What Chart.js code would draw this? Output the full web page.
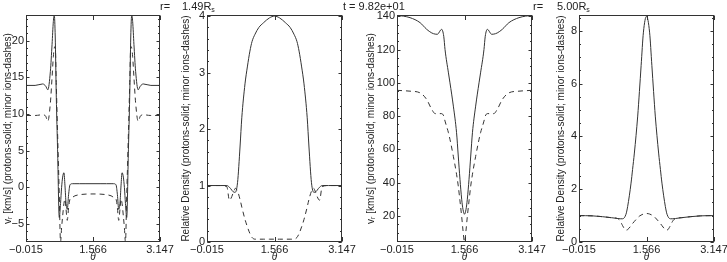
<!DOCTYPE html>
<html>
<head>
<meta charset="utf-8">
<script src="https://cdn.jsdelivr.net/npm/chart.js@4.4.1/dist/chart.umd.min.js"></script>
<style>
  body { margin: 0; background: #fff; }
  #wrap { position: relative; width: 727px; height: 262px; overflow: hidden; }
  #wrap canvas { position: absolute; left: 0; top: 0; }
  .lbl { position: absolute; top: 0; font: 11px "Liberation Sans", Arial, sans-serif; line-height: 12px; color: #222; white-space: pre; }
  .lbl sub { font-size: 7px; vertical-align: -2px; }
</style>
</head>
<body>
<div id="wrap">
  <canvas id="c1" width="727" height="262"></canvas>
  <canvas id="c2" width="727" height="262"></canvas>
  <canvas id="c3" width="727" height="262"></canvas>
  <canvas id="c4" width="727" height="262"></canvas>
  <div class="lbl" style="left:160px">r=</div>
  <div class="lbl" style="left:182px">1.49R<sub>s</sub></div>
  <div class="lbl" style="left:343px">t = 9.82e+01</div>
  <div class="lbl" style="left:533px">r=</div>
  <div class="lbl" style="left:557px">5.00R<sub>s</sub></div>
</div>
<script>
// theta ticks shared by all panels
const thetaTicks = [-0.015, 1.566, 3.147];

// panel 1: radial velocity at r=1.49 Rs
const theta1 = [-0.015, 0.20, 0.38, 0.45, 0.50, 0.56, 0.60, 0.63, 0.652, 0.675, 0.70, 0.73, 0.77, 0.80, 0.825, 0.85, 0.88, 0.905, 0.93, 0.959, 0.99, 1.023, 1.08, 1.14, 1.25, 1.40, 1.566,
  1.732, 1.882, 1.992, 2.052, 2.109, 2.142, 2.173, 2.202, 2.227, 2.252, 2.282, 2.307, 2.332, 2.362, 2.402, 2.432, 2.457, 2.48, 2.502, 2.532, 2.572, 2.632, 2.682, 2.752, 2.932, 3.147];
const vrProtons1 = [13.9, 13.9, 14.1, 13.8, 13.3, 15.8, 19.5, 22.6, 23.5, 20.5, 12.3, 5.2, -4.1, -2.2, 0.0, 1.4, 2.0, 0.2, -2.2, -3.0, -1.0, 0.35, 0.5, 0.5, 0.5, 0.5, 0.5,
  0.5, 0.5, 0.5, 0.5, 0.35, -1.0, -3.0, -2.2, 0.2, 2.0, 1.4, 0.0, -2.2, -4.1, 5.2, 12.3, 20.5, 23.5, 22.6, 19.5, 15.8, 13.3, 13.8, 14.1, 13.9, 13.9];
const vrIons1 = [9.8, 9.8, 9.9, 9.7, 9.0, 11.5, 15.0, 17.8, 19.0, 19.2, 14.0, 7.5, -1.0, -7.45, -5.5, -3.9, -2.2, -1.6, -3.0, -4.5, -2.8, -1.6, -1.35, -1.15, -1.0, -0.92, -0.9,
  -0.92, -1.0, -1.15, -1.35, -1.6, -2.8, -4.5, -3.0, -1.6, -2.2, -3.9, -5.5, -7.45, -1.0, 7.5, 14.0, 19.2, 19.0, 17.8, 15.0, 11.5, 9.0, 9.7, 9.9, 9.8, 9.8];

// panel 2: relative density at r=1.49 Rs
const theta2 = [-0.015, 0.30, 0.45, 0.51, 0.625, 0.645, 0.70, 0.76, 0.80, 0.875, 0.93, 0.99, 1.04, 1.11, 1.20, 1.305, 1.45, 1.566,
  1.682, 1.827, 1.932, 2.022, 2.092, 2.142, 2.202, 2.257, 2.332, 2.372, 2.432, 2.487, 2.507, 2.622, 2.682, 2.832, 3.147];
const densProtons2 = [1.0, 1.0, 1.0, 0.97, 0.88, 0.88, 1.05, 1.7, 2.2, 2.8, 3.1, 3.38, 3.55, 3.68, 3.8, 3.88, 3.97, 4.0,
  3.97, 3.88, 3.8, 3.68, 3.55, 3.38, 3.1, 2.8, 2.2, 1.7, 1.05, 0.88, 0.88, 0.97, 1.0, 1.0, 1.0];
const densIons2 = [1.0, 1.0, 0.98, 0.74, 0.92, 0.95, 0.90, 0.75, 0.62, 0.40, 0.27, 0.15, 0.08, 0.05, 0.05, 0.05, 0.05, 0.05,
  0.05, 0.05, 0.05, 0.05, 0.08, 0.15, 0.27, 0.40, 0.62, 0.75, 0.90, 0.95, 0.92, 0.74, 0.98, 1.0, 1.0];

// panel 3: radial velocity at r=5.00 Rs
const theta3 = [-0.015, 0.29, 0.525, 0.68, 0.80, 0.88, 0.93, 1.03, 1.08, 1.11, 1.19, 1.226, 1.305, 1.38, 1.42, 1.46, 1.50, 1.53, 1.566,
  1.602, 1.632, 1.672, 1.712, 1.752, 1.827, 1.906, 1.942, 2.022, 2.052, 2.102, 2.202, 2.252, 2.332, 2.452, 2.607, 2.842, 3.147];
const vrProtons3 = [140.7, 139.2, 136.2, 132.2, 130.0, 129.3, 129.2, 132.2, 128.0, 120.0, 106.0, 100.0, 86.0, 70.0, 56.0, 42.0, 30.0, 24.0, 21.0,
  24.0, 30.0, 42.0, 56.0, 70.0, 86.0, 100.0, 106.0, 120.0, 128.0, 132.2, 129.2, 129.3, 130.0, 132.2, 136.2, 139.2, 140.7];
const vrIons3 = [95.5, 95.0, 94.0, 90.0, 84.0, 81.5, 81.5, 81.5, 80.0, 77.0, 70.0, 66.0, 55.8, 45.0, 38.0, 29.0, 19.6, 11.5, 4.3,
  11.5, 19.6, 29.0, 38.0, 45.0, 55.8, 66.0, 70.0, 77.0, 80.0, 81.5, 81.5, 81.5, 84.0, 90.0, 94.0, 95.0, 95.5];

// panel 4: relative density at r=5.00 Rs
const theta4 = [-0.015, 0.30, 0.53, 0.75, 0.888, 0.95, 1.006, 1.085, 1.124, 1.204, 1.24, 1.282, 1.36, 1.40, 1.44, 1.494, 1.566,
  1.638, 1.692, 1.732, 1.772, 1.85, 1.892, 1.928, 2.008, 2.047, 2.126, 2.182, 2.244, 2.382, 2.602, 2.832, 3.147];
const densProtons4 = [1.0, 0.99, 0.96, 0.92, 0.89, 0.88, 0.88, 1.05, 1.34, 2.23, 2.75, 3.37, 4.77, 5.7, 6.68, 7.95, 8.55,
  7.95, 6.68, 5.7, 4.77, 3.37, 2.75, 2.23, 1.34, 1.05, 0.88, 0.88, 0.89, 0.92, 0.96, 0.99, 1.0];
const densIons4 = [1.0, 0.99, 0.96, 0.92, 0.89, 0.80, 0.62, 0.45, 0.47, 0.62, 0.70, 0.78, 0.92, 0.98, 1.02, 1.06, 1.08,
  1.06, 1.02, 0.98, 0.92, 0.78, 0.70, 0.62, 0.47, 0.45, 0.62, 0.80, 0.89, 0.92, 0.96, 0.99, 1.0];

const lineColor = '#333';
const textColor = '#222';
const fontName = '"Liberation Sans", Arial, sans-serif';

// frame box + inward ticks like the IDL plot
const frameTicks = {
  id: 'frameTicks',
  afterDraw(chart, args, opts) {
    var ctx = chart.ctx, a = chart.chartArea;
    var ys = chart.scales.y, xs = chart.scales.x;
    var L = Math.round(a.left) + 0.5, R = Math.round(a.right) - 0.5;
    var T = Math.round(a.top) + 0.5, B = Math.round(a.bottom) - 0.5;
    ctx.save();
    ctx.strokeStyle = lineColor;
    ctx.lineWidth = 1;
    ctx.strokeRect(L, T, R - L, B - T);
    ctx.beginPath();
    // minor y ticks
    var start = Math.ceil(ys.min / opts.minor) * opts.minor;
    for (var v = start; v <= ys.max + 1e-9; v += opts.minor) {
      var py = Math.round(ys.getPixelForValue(v)) + 0.5;
      ctx.moveTo(L, py); ctx.lineTo(L + 1.5, py);
      ctx.moveTo(R, py); ctx.lineTo(R - 1.5, py);
    }
    // major y ticks
    ys.ticks.forEach(t => {
      var py = Math.round(ys.getPixelForValue(t.value)) + 0.5;
      ctx.moveTo(L, py); ctx.lineTo(L + 3, py);
      ctx.moveTo(R, py); ctx.lineTo(R - 3, py);
    });
    // x ticks (only the inner one is visible)
    xs.ticks.forEach(t => {
      var px = Math.round(xs.getPixelForValue(t.value)) + 0.5;
      ctx.moveTo(px, B); ctx.lineTo(px, B - 4.5);
      ctx.moveTo(px, T); ctx.lineTo(px, T + 4.5);
    });
    ctx.stroke();
    ctx.restore();
  }
};

function fmt(v) {
  return String(v).replace('-', '\u2212');
}

function makePanel(id, theta, solid, dashed, p) {
  var ctx = document.getElementById(id).getContext('2d');
  return new Chart(ctx, {
    type: 'line',
    data: {
      datasets: [{
        data: theta.map((t, i) => ({x: t, y: solid[i]})),
        borderColor: lineColor,
        borderWidth: 1,
        pointRadius: 0,
        cubicInterpolationMode: 'monotone'
      }, {
        data: theta.map((t, i) => ({x: t, y: dashed[i]})),
        borderColor: lineColor,
        borderWidth: 1,
        borderDash: [5, 4],
        pointRadius: 0,
        cubicInterpolationMode: 'monotone'
      }]
    },
    options: {
      animation: false,
      responsive: false,
      events: [],
      layout: {padding: {left: p.titleX - 6, right: 727 - p.right, top: 15, bottom: 0}},
      plugins: {
        legend: {display: false},
        tooltip: {enabled: false},
        frameTicks: {minor: p.minor}
      },
      scales: {
        x: {
          type: 'linear',
          min: -0.015,
          max: 3.147,
          afterBuildTicks: s => { s.ticks = thetaTicks.map(v => ({value: v})); },
          ticks: {
            callback: v => fmt(v.toFixed(3)),
            padding: 1,
            maxRotation: 0,
            autoSkip: false,
            color: textColor,
            font: {family: fontName, size: 11}
          },
          grid: {display: false, drawTicks: false},
          border: {display: false},
          title: {display: true, text: '\u03b8', color: textColor, padding: 0,
            font: {family: fontName, size: 10, style: 'italic', lineHeight: 1}},
          afterFit: s => { s.height = 20; s.paddingLeft = 0; s.paddingRight = 0; }
        },
        y: {
          min: p.min,
          max: p.max,
          ticks: {
            stepSize: p.step,
            includeBounds: false,
            padding: 2,
            callback: v => fmt(v),
            color: textColor,
            font: {family: fontName, size: 11}
          },
          grid: {display: false, drawTicks: false},
          border: {display: false},
          title: {display: true, text: p.title, color: textColor, padding: 0,
            font: {family: fontName, size: 10, lineHeight: 1.2}},
          afterFit: s => { s.width = p.left - (p.titleX - 6); s.paddingTop = 0; s.paddingBottom = 0; }
        }
      }
    },
    plugins: [frameTicks]
  });
}

const vrTitle = 'v\u1d63 [km/s] (protons-solid; minor ions-dashes)';
const densTitle = 'Relative Density (protons-solid; minor ions-dashes)';

makePanel('c1', theta1, vrProtons1, vrIons1,
  {left: 26, right: 160, titleX: 8, min: -7.45, max: 23.5, step: 5, minor: 1, title: vrTitle});
makePanel('c2', theta2, densProtons2, densIons2,
  {left: 207, right: 342, titleX: 186, min: 0, max: 4.02, step: 1, minor: 0.2, title: densTitle});
makePanel('c3', theta3, vrProtons3, vrIons3,
  {left: 397, right: 532, titleX: 371, min: 4.3, max: 140.8, step: 20, minor: 5, title: vrTitle});
makePanel('c4', theta4, densProtons4, densIons4,
  {left: 579, right: 714, titleX: 561, min: 0, max: 8.6, step: 2, minor: 0.5, title: densTitle});
</script>
</body>
</html>
